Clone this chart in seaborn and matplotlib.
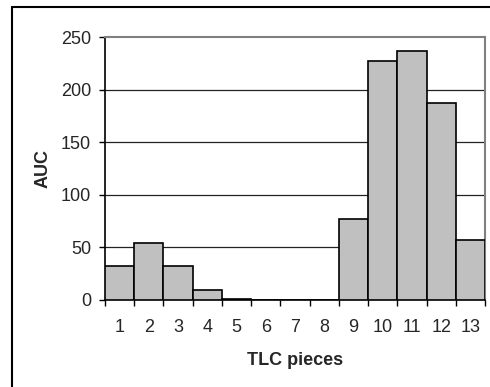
import numpy as np
import pandas as pd
import matplotlib
matplotlib.use("Agg")
import matplotlib.pyplot as plt
from matplotlib.lines import Line2D
import seaborn as sns

pieces = ["1", "2", "3", "4", "5", "6", "7", "8", "9", "10", "11", "12", "13"]
auc = [32, 54.5, 32, 9.5, 1.2, 0, 0, 0, 77, 227.5, 236.5, 187.5, 57]
yticks = [0, 50, 100, 150, 200, 250]

sns.set_style("white")
plt.rcParams['font.family'] = ['Liberation Sans', 'DejaVu Sans']

df = pd.DataFrame({"piece": pieces, "auc": auc})

fig = plt.figure(figsize=(4.9, 3.87), dpi=100)
ax = fig.add_axes([105/490, (387-300)/387, 380/490, 263/387])

sns.barplot(data=df, x="piece", y="auc", order=pieces, color="#c0c0c0",
            saturation=1, width=1.0, edgecolor="black", linewidth=1.2, ax=ax,
            zorder=3)

ax.set_xlim(-0.5, len(pieces) - 0.5)
ax.set_ylim(0, 250)
ax.set_yticks(yticks)
ax.set_yticklabels([str(v) for v in yticks])
for v in yticks[1:-1]:
    ax.axhline(v, color="#222222", linewidth=0.9, zorder=1)

ax.set_xticks(range(len(pieces)))
ax.set_xticklabels(pieces)
ax.set_xticks(np.arange(-0.5, len(pieces)), minor=True)
ax.tick_params(axis="x", which="major", length=0, pad=14, labelsize=13)
ax.tick_params(axis="x", which="minor", length=4, width=1, color="black",
               direction="out", bottom=True)
ax.tick_params(axis="y", which="major", length=4, width=1, color="black",
               direction="out", left=True, pad=6, labelsize=13)

for side in ["left", "bottom"]:
    ax.spines[side].set_color("black")
    ax.spines[side].set_linewidth(1.2)
for side in ["top", "right"]:
    ax.spines[side].set_color("#808080")
    ax.spines[side].set_linewidth(1.5)
    ax.spines[side].set_visible(True)

ax.set_xlabel("TLC pieces", fontsize=13, fontweight="bold", labelpad=11)
ax.set_ylabel("AUC", fontsize=13, fontweight="bold", labelpad=7)

# outer chart border (left and top visible)
fig.add_artist(Line2D([12/490, 12/490], [0, 1 - 7/387], transform=fig.transFigure,
                      color="black", linewidth=1.5))
fig.add_artist(Line2D([12/490, 1], [1 - 7/387, 1 - 7/387], transform=fig.transFigure,
                      color="black", linewidth=1.5))

fig.savefig("out.png", dpi=100)
